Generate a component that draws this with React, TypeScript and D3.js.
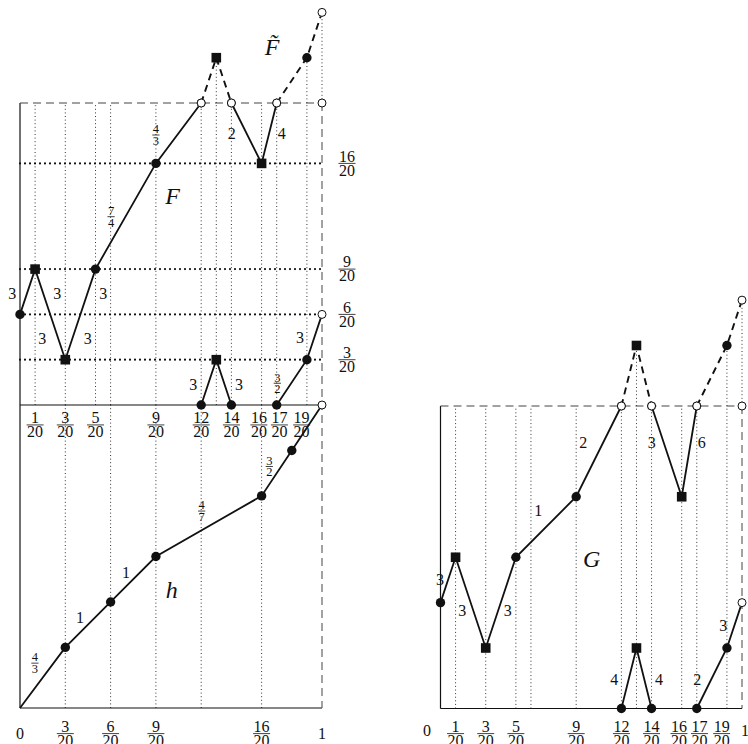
import React from "react";
import * as d3 from "d3";

// every abscissa and ordinate below is in twentieths of the unit interval
type Mark = "dot" | "sq" | "open" | "none";
type Pt = [number, number, Mark];
type Lab = [number, number, string];

const guideTicks = [1, 3, 5, 6, 9, 12, 13, 14, 16, 17, 19];
const hGuideTicks = [3, 6, 9, 12, 16];
const fLevels = [16, 9, 6, 3];

const fSolid: Pt[][] = [
  [[0, 6, "dot"], [1, 9, "sq"], [3, 3, "sq"], [5, 9, "dot"], [9, 16, "dot"], [12, 20, "open"]],
  [[14, 20, "open"], [16, 16, "sq"], [17, 20, "open"]],
  [[12, 0, "dot"], [13, 3, "sq"], [14, 0, "dot"]],
  [[17, 0, "dot"], [19, 3, "dot"], [20, 6, "open"]],
];
const fDashed: Pt[][] = [
  [[12, 20, "open"], [13, 23, "sq"], [14, 20, "open"]],
  [[17, 20, "open"], [19, 23, "dot"], [20, 26, "open"]],
];
const fLoose: Pt[] = [[20, 20, "open"]];

const hPoints: Pt[] = [
  [0, 0, "none"], [3, 4, "dot"], [6, 7, "dot"], [9, 10, "dot"],
  [16, 14, "dot"], [18, 17, "dot"], [20, 20, "open"],
];

const gSolid: Pt[][] = [
  [[0, 7, "dot"], [1, 10, "sq"], [3, 4, "sq"], [5, 10, "dot"], [9, 14, "dot"], [12, 20, "open"]],
  [[14, 20, "open"], [16, 14, "sq"], [17, 20, "open"]],
  [[12, 0, "dot"], [13, 4, "sq"], [14, 0, "dot"]],
  [[17, 0, "dot"], [19, 4, "dot"], [20, 7, "open"]],
];
const gDashed: Pt[][] = [
  [[12, 20, "open"], [13, 24, "sq"], [14, 20, "open"]],
  [[17, 20, "open"], [19, 24, "dot"], [20, 27, "open"]],
];
const gLoose: Pt[] = [[20, 20, "open"]];

// slope labels and names, anchored in data units
const fLabels: Lab[] = [
  [-0.51, 7.4, "3"], [2.47, 7.4, "3"], [5.52, 7.4, "3"], [1.48, 4.42, "3"], [4.48, 4.42, "3"],
  [6.03, 12.47, "7/4"], [9.0, 17.88, "4/3"], [14.02, 17.99, "2"], [17.33, 17.99, "4"],
  [11.48, 1.37, "3"], [14.5, 1.37, "3"], [17.04, 1.44, "3/2"], [18.54, 4.46, "3"],
  [10.11, 13.84, "F"], [16.69, 23.71, "F\u0303"],
];
const hLabels: Lab[] = [
  [0.99, 2.96, "4/3"], [3.97, 5.94, "1"], [7.02, 8.96, "1"], [12.03, 13.0, "4/7"],
  [16.51, 15.94, "3/2"], [10.05, 7.81, "h"],
];
const gLabels: Lab[] = [
  [-0.03, 8.52, "3"], [1.45, 6.49, "3"], [4.46, 6.49, "3"], [6.49, 13.1, "1"],
  [9.47, 17.55, "2"], [14.01, 17.55, "3"], [17.33, 17.55, "6"],
  [11.53, 1.89, "4"], [14.49, 1.89, "4"], [17.03, 1.89, "2"], [18.76, 5.47, "3"],
  [10.03, 9.9, "G"],
];

const fTicks = [1, 3, 5, 9, 12, 14, 16, 17, 19];
const hTicks = [3, 6, 9, 16];
const gTicks = [1, 3, 5, 9, 12, 14, 16, 17, 19];
// crowded tick labels are nudged apart (in twentieths)
const tickNudge: Record<number, number> = { 16: -0.18, 17: 0.18, 19: -0.35 };

const SERIF = "'Liberation Serif', 'DejaVu Serif', serif";
const INK = "#111";

const xF = d3.scaleLinear().domain([0, 20]).range([20, 322]);
const yF = d3.scaleLinear().domain([0, 20]).range([405, 103]);
const yH = d3.scaleLinear().domain([0, 20]).range([708, 405]);
const xG = d3.scaleLinear().domain([0, 20]).range([440.5, 742]);
const yG = d3.scaleLinear().domain([0, 20]).range([708.5, 406]);

type S = d3.ScaleLinear<number, number>;

function Frac({ x, y, text, size }: { x: number; y: number; text: string; size: number }) {
  const [n, d] = text.split("/");
  const w = Math.max(n.length, d.length) * size * 0.5 + 1;
  return (
    <g fontFamily={SERIF} fontSize={size} textAnchor="middle" fill={INK}>
      <text x={x} y={y - 1.7}>{n}</text>
      <line x1={x - w / 2} x2={x + w / 2} y1={y} y2={y} stroke={INK} strokeWidth={0.8} />
      <text x={x} y={y + 1.6 + size * 0.66}>{d}</text>
    </g>
  );
}

function Label({ x, y, text }: { x: number; y: number; text: string }) {
  if (text.includes("/")) return <Frac x={x} y={y} text={text} size={12.5} />;
  if (/[A-Za-z]/.test(text))
    return (
      <text x={x} y={y + 8} textAnchor="middle" fontFamily={SERIF} fontStyle="italic" fontSize={24} fill={INK}>
        {text}
      </text>
    );
  return (
    <text x={x} y={y + 5.3} textAnchor="middle" fontFamily={SERIF} fontSize={16} fill={INK}>
      {text}
    </text>
  );
}

function Marker({ x, y, kind }: { x: number; y: number; kind: Mark }) {
  if (kind === "dot") return <circle cx={x} cy={y} r={4.7} fill={INK} />;
  if (kind === "sq") return <rect x={x - 4.8} y={y - 4.8} width={9.6} height={9.6} fill={INK} />;
  if (kind === "open") return <circle cx={x} cy={y} r={4} fill="#fff" stroke={INK} strokeWidth={1} />;
  return null;
}

function Curves({ xs, ys, solid, dashed, loose }: { xs: S; ys: S; solid: Pt[][]; dashed: Pt[][]; loose: Pt[] }) {
  const line = d3.line<Pt>().x((p) => xs(p[0])).y((p) => ys(p[1]));
  const all = [...solid, ...dashed].flat().concat(loose);
  return (
    <g>
      {solid.map((p, i) => (
        <path key={"s" + i} d={line(p) ?? ""} fill="none" stroke={INK} strokeWidth={1.8} />
      ))}
      {dashed.map((p, i) => (
        <path key={"d" + i} d={line(p) ?? ""} fill="none" stroke={INK} strokeWidth={1.9} strokeDasharray="7 5" />
      ))}
      {all.map((p, i) => (
        <Marker key={"m" + i} x={xs(p[0])} y={ys(p[1])} kind={p[2]} />
      ))}
    </g>
  );
}

function Guides({ xs, ys, ticks, dashed }: { xs: S; ys: S; ticks: number[]; dashed: Pt[][] }) {
  const above = dashed.flat().filter((p) => p[1] > 20);
  return (
    <g stroke="#333" strokeWidth={1} strokeDasharray="1 2.6">
      {ticks.map((t) => (
        <line key={t} x1={xs(t)} x2={xs(t)} y1={ys(0)} y2={ys(20)} />
      ))}
      {above.map((p, i) => (
        <line key={"u" + i} x1={xs(p[0])} x2={xs(p[0])} y1={ys(20)} y2={ys(p[1])} />
      ))}
    </g>
  );
}

function TickRow({ xs, y, ticks, nudge }: { xs: S; y: number; ticks: number[]; nudge: boolean }) {
  return (
    <g>
      {ticks.map((t) => (
        <Frac key={t} x={xs(t + (nudge ? tickNudge[t] ?? 0 : 0))} y={y} text={`${t}/20`} size={16} />
      ))}
    </g>
  );
}

function Plain({ x, y, text }: { x: number; y: number; text: string }) {
  return (
    <text x={x} y={y + 5.3} textAnchor="middle" fontFamily={SERIF} fontSize={16} fill={INK}>
      {text}
    </text>
  );
}

export default function App() {
  const hLine = d3.line<Pt>().x((p) => xF(p[0])).y((p) => yH(p[1]));
  return (
    <svg
      width={748}
      height={744}
      viewBox="0 0 748 744"
      style={{ position: "absolute", left: 0, top: 0, background: "#fff" }}
    >
      {/* ---- left: F and h ---- */}
      <Guides xs={xF} ys={yF} ticks={guideTicks} dashed={fDashed} />
      <Guides xs={xF} ys={yH} ticks={hGuideTicks} dashed={[]} />
      <g stroke={INK} strokeWidth={2.2} strokeDasharray="0 5" strokeLinecap="round">
        {fLevels.map((l) => (
          <line key={l} x1={xF(0)} x2={xF(20)} y1={yF(l)} y2={yF(l)} />
        ))}
      </g>
      <g stroke={INK} fill="none">
        <line x1={xF(0)} x2={xF(0)} y1={yF(20)} y2={yH(0)} strokeWidth={1.2} />
        <line x1={xF(0)} x2={xF(20)} y1={yF(0)} y2={yF(0)} strokeWidth={1.2} />
        <line x1={xF(0)} x2={xF(20)} y1={yH(0)} y2={yH(0)} strokeWidth={1.2} />
        <line x1={xF(0)} x2={xF(20)} y1={yF(20)} y2={yF(20)} strokeWidth={1} stroke="#444" strokeDasharray="8 5" />
        <line x1={xF(20)} x2={xF(20)} y1={yF(20)} y2={yH(0)} strokeWidth={1} stroke="#444" strokeDasharray="8 5" />
      </g>
      <path d={hLine(hPoints) ?? ""} fill="none" stroke={INK} strokeWidth={1.8} />
      {hPoints.map((p, i) => (
        <Marker key={"h" + i} x={xF(p[0])} y={yH(p[1])} kind={p[2]} />
      ))}
      <Curves xs={xF} ys={yF} solid={fSolid} dashed={fDashed} loose={fLoose} />
      {fLabels.map((l, i) => (
        <Label key={"fl" + i} x={xF(l[0])} y={yF(l[1])} text={l[2]} />
      ))}
      {hLabels.map((l, i) => (
        <Label key={"hl" + i} x={xF(l[0])} y={yH(l[1])} text={l[2]} />
      ))}
      {fLevels.map((l) => (
        <Frac key={"lv" + l} x={347} y={yF(l)} text={`${l}/20`} size={16} />
      ))}
      <TickRow xs={xF} y={yF(-1.32)} ticks={fTicks} nudge={true} />
      <TickRow xs={xF} y={yH(-1.69)} ticks={hTicks} nudge={false} />
      <Plain x={xF(0)} y={yH(-1.69)} text="0" />
      <Plain x={xF(20)} y={yH(-1.69)} text="1" />

      {/* ---- right: G ---- */}
      <Guides xs={xG} ys={yG} ticks={guideTicks} dashed={gDashed} />
      <g stroke={INK} fill="none">
        <line x1={xG(0)} x2={xG(0)} y1={yG(20)} y2={yG(0)} strokeWidth={1.2} />
        <line x1={xG(0)} x2={xG(20)} y1={yG(0)} y2={yG(0)} strokeWidth={1.2} />
        <line x1={xG(0)} x2={xG(20)} y1={yG(20)} y2={yG(20)} strokeWidth={1} stroke="#444" strokeDasharray="8 5" />
        <line x1={xG(20)} x2={xG(20)} y1={yG(20)} y2={yG(0)} strokeWidth={1} stroke="#444" strokeDasharray="8 5" />
      </g>
      <Curves xs={xG} ys={yG} solid={gSolid} dashed={gDashed} loose={gLoose} />
      {gLabels.map((l, i) => (
        <Label key={"gl" + i} x={xG(l[0])} y={yG(l[1])} text={l[2]} />
      ))}
      <TickRow xs={xG} y={yG(-1.66)} ticks={gTicks} nudge={true} />
      <Plain x={xG(-0.9)} y={yG(-1.49)} text="0" />
      <Plain x={xG(20.2)} y={yG(-1.49)} text="1" />
    </svg>
  );
}
